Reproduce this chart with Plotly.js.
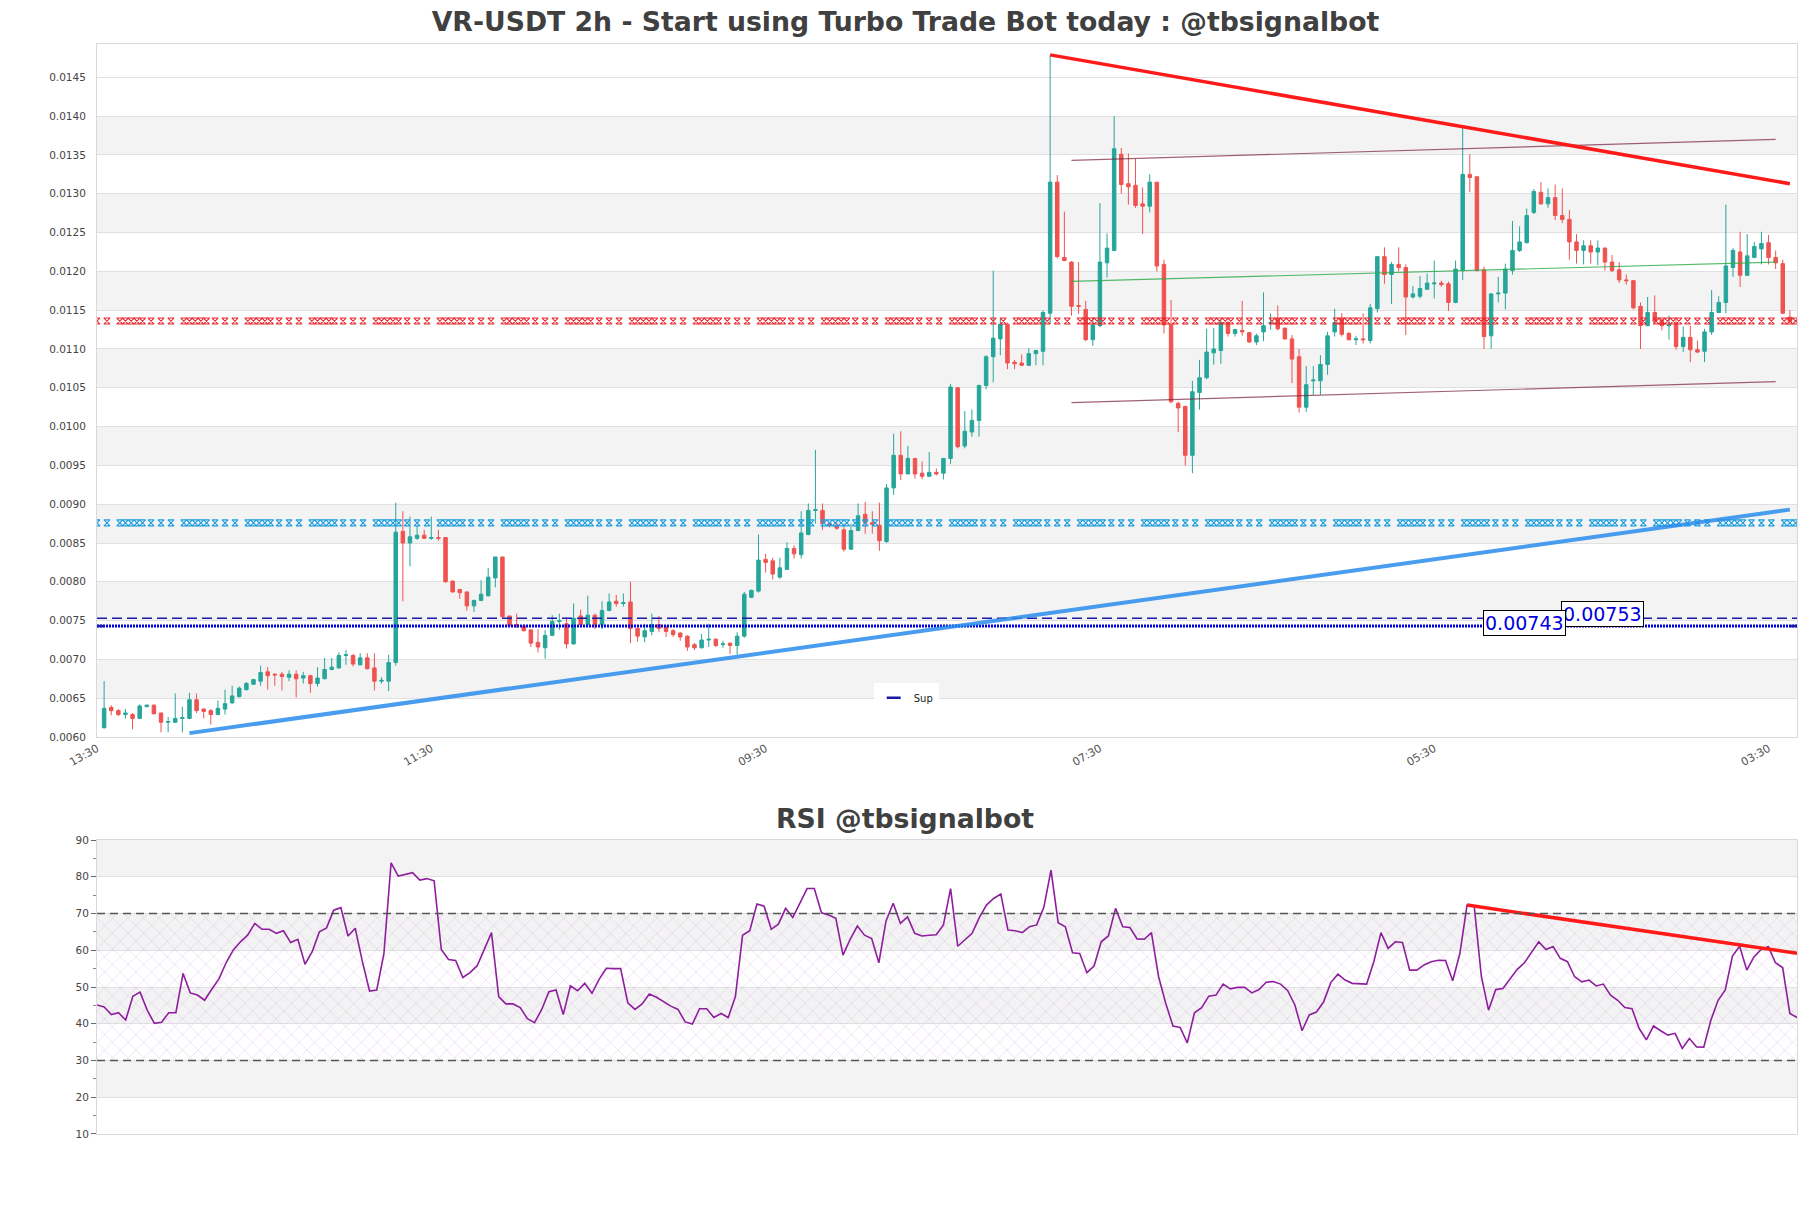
<!DOCTYPE html>
<html>
<head>
<meta charset="utf-8">
<script src="https://cdn.plot.ly/plotly-3.0.1.min.js"></script>
<style>
  html, body { margin: 0; padding: 0; background: #fff; }
  #chart { width: 1811px; height: 1208px; }
</style>
</head>
<body>
<div id="chart"></div>
<script>
// 2h candles
var candleOpen = [
  0.00612,0.00638,0.00634,0.00629,0.00629,0.00624,0.00639,0.00641,0.00631,0.00619,
  0.00619,0.00624,0.00624,0.00648,0.00636,0.00634,0.00629,0.00636,0.00644,0.00652,
  0.00661,0.00668,0.00672,0.00684,0.00681,0.00681,0.00677,0.00681,0.00676,0.00679,
  0.00669,0.00675,0.00687,0.00689,0.00705,0.00705,0.00693,0.00702,0.00689,0.00672,
  0.00672,0.00696,0.00865,0.00850,0.00856,0.00860,0.00856,0.00857,0.00857,0.00801,
  0.00790,0.00787,0.00769,0.00776,0.00782,0.00805,0.00832,0.00756,0.00745,0.00743,
  0.00738,0.00722,0.00715,0.00731,0.00749,0.00746,0.00720,0.00756,0.00745,0.00757,
  0.00745,0.00763,0.00775,0.00772,0.00774,0.00740,0.00729,0.00736,0.00745,0.00742,
  0.00737,0.00734,0.00730,0.00719,0.00715,0.00725,0.00726,0.00719,0.00721,0.00718,
  0.00730,0.00780,0.00788,0.00829,0.00827,0.00806,0.00816,0.00843,0.00835,0.00861,
  0.00892,0.00892,0.00875,0.00873,0.00867,0.00842,0.00866,0.00887,0.00876,0.00873,
  0.00852,0.00921,0.00963,0.00939,0.00959,0.00940,0.00936,0.00941,0.00940,0.00959,
  0.01050,0.00975,0.00993,0.01008,0.01053,0.01090,0.01113,0.01132,0.01083,0.01082,
  0.01079,0.01094,0.01097,0.01146,0.01315,0.01218,0.01212,0.01156,0.01151,0.01112,
  0.01130,0.01211,0.01227,0.01351,0.01313,0.01311,0.01287,0.01284,0.01315,0.01209,
  0.01132,0.01030,0.01026,0.00963,0.01044,0.01063,0.01095,0.01098,0.01134,0.01120,
  0.01124,0.01121,0.01109,0.01122,0.01133,0.01139,0.01127,0.01113,0.01090,0.01025,
  0.01059,0.01059,0.01080,0.01122,0.01139,0.01120,0.01112,0.01113,0.01111,0.01152,
  0.01219,0.01196,0.01209,0.01205,0.01167,0.01168,0.01177,0.01184,0.01185,0.01184,
  0.01160,0.01201,0.01325,0.01322,0.01202,0.01117,0.01171,0.01172,0.01201,0.01227,
  0.01237,0.01276,0.01302,0.01287,0.01295,0.01272,0.01267,0.01238,0.01227,0.01233,
  0.01225,0.01230,0.01212,0.01202,0.01189,0.01188,0.01155,0.01130,0.01147,0.01137,
  0.01130,0.01133,0.01103,0.01115,0.01099,0.01097,0.01122,0.01147,0.01160,0.01205,
  0.01225,0.01195,0.01218,0.01229,0.01237,0.01218,0.01210,0.01141
];
var candleHigh = [
  0.00672,0.00641,0.00636,0.00636,0.00631,0.00642,0.00642,0.00642,0.00631,0.00626,
  0.00656,0.00639,0.00657,0.00656,0.00637,0.00636,0.00647,0.00661,0.00666,0.00665,
  0.00671,0.00675,0.00692,0.00690,0.00682,0.00684,0.00686,0.00686,0.00684,0.00680,
  0.00690,0.00702,0.00702,0.00709,0.00712,0.00707,0.00708,0.00708,0.00708,0.00677,
  0.00706,0.00902,0.00891,0.00884,0.00872,0.00867,0.00884,0.00867,0.00857,0.00801,
  0.00791,0.00787,0.00777,0.00802,0.00818,0.00832,0.00832,0.00756,0.00759,0.00745,
  0.00739,0.00739,0.00738,0.00757,0.00759,0.00754,0.00772,0.00764,0.00782,0.00759,
  0.00775,0.00785,0.00783,0.00785,0.00800,0.00740,0.00746,0.00759,0.00756,0.00744,
  0.00739,0.00735,0.00731,0.00721,0.00733,0.00746,0.00727,0.00724,0.00721,0.00735,
  0.00787,0.00790,0.00861,0.00836,0.00831,0.00831,0.00851,0.00847,0.00891,0.00901,
  0.00970,0.00901,0.00877,0.00878,0.00875,0.00875,0.00901,0.00903,0.00891,0.00902,
  0.00926,0.00991,0.00994,0.00975,0.00959,0.00955,0.00967,0.00946,0.00959,0.01055,
  0.01051,0.01020,0.01022,0.01054,0.01092,0.01201,0.01140,0.01134,0.01086,0.01093,
  0.01101,0.01099,0.01150,0.01479,0.01324,0.01277,0.01213,0.01212,0.01162,0.01141,
  0.01288,0.01249,0.01400,0.01359,0.01352,0.01345,0.01308,0.01325,0.01315,0.01215,
  0.01163,0.01032,0.01027,0.01059,0.01086,0.01126,0.01127,0.01138,0.01136,0.01126,
  0.01162,0.01122,0.01120,0.01173,0.01146,0.01156,0.01127,0.01118,0.01100,0.01078,
  0.01078,0.01092,0.01122,0.01152,0.01146,0.01122,0.01117,0.01146,0.01158,0.01220,
  0.01231,0.01212,0.01231,0.01209,0.01181,0.01194,0.01197,0.01214,0.01188,0.01187,
  0.01214,0.01386,0.01351,0.01322,0.01206,0.01172,0.01193,0.01210,0.01265,0.01258,
  0.01281,0.01306,0.01315,0.01307,0.01312,0.01307,0.01279,0.01248,0.01240,0.01240,
  0.01240,0.01231,0.01221,0.01212,0.01196,0.01189,0.01160,0.01167,0.01169,0.01139,
  0.01143,0.01137,0.01129,0.01130,0.01111,0.01126,0.01176,0.01168,0.01286,0.01230,
  0.01251,0.01248,0.01238,0.01251,0.01247,0.01227,0.01215,0.01150
];
var candleLow = [
  0.00611,0.00628,0.00627,0.00624,0.00610,0.00624,0.00639,0.00629,0.00606,0.00606,
  0.00618,0.00606,0.00623,0.00631,0.00624,0.00616,0.00628,0.00629,0.00643,0.00651,
  0.00660,0.00667,0.00666,0.00661,0.00666,0.00660,0.00672,0.00651,0.00669,0.00657,
  0.00665,0.00675,0.00686,0.00688,0.00693,0.00691,0.00692,0.00687,0.00660,0.00669,
  0.00659,0.00692,0.00775,0.00820,0.00854,0.00855,0.00854,0.00853,0.00799,0.00786,
  0.00778,0.00763,0.00761,0.00775,0.00781,0.00793,0.00754,0.00743,0.00741,0.00736,
  0.00716,0.00709,0.00701,0.00730,0.00738,0.00714,0.00719,0.00743,0.00744,0.00739,
  0.00739,0.00762,0.00768,0.00768,0.00721,0.00723,0.00722,0.00731,0.00735,0.00729,
  0.00729,0.00724,0.00711,0.00712,0.00714,0.00716,0.00716,0.00715,0.00707,0.00706,
  0.00728,0.00779,0.00786,0.00812,0.00803,0.00804,0.00816,0.00830,0.00830,0.00860,
  0.00875,0.00867,0.00870,0.00867,0.00839,0.00842,0.00866,0.00862,0.00862,0.00840,
  0.00850,0.00912,0.00931,0.00939,0.00933,0.00932,0.00935,0.00937,0.00932,0.00952,
  0.00972,0.00972,0.00987,0.00987,0.01048,0.01057,0.01092,0.01074,0.01074,0.01078,
  0.01078,0.01079,0.01079,0.01132,0.01217,0.01213,0.01143,0.01145,0.01110,0.01104,
  0.01128,0.01192,0.01226,0.01300,0.01286,0.01282,0.01248,0.01276,0.01200,0.01120,
  0.01030,0.00993,0.00950,0.00940,0.01022,0.01061,0.01080,0.01081,0.01116,0.01116,
  0.01117,0.01108,0.01105,0.01110,0.01125,0.01124,0.01112,0.01056,0.01018,0.01019,
  0.01041,0.01041,0.01067,0.01116,0.01116,0.01111,0.01105,0.01107,0.01107,0.01147,
  0.01184,0.01158,0.01200,0.01118,0.01165,0.01165,0.01176,0.01165,0.01180,0.01149,
  0.01159,0.01189,0.01302,0.01200,0.01100,0.01100,0.01160,0.01151,0.01196,0.01225,
  0.01236,0.01274,0.01286,0.01282,0.01266,0.01262,0.01215,0.01210,0.01209,0.01210,
  0.01208,0.01201,0.01199,0.01185,0.01183,0.01151,0.01100,0.01130,0.01134,0.01124,
  0.01112,0.01099,0.01096,0.01083,0.01095,0.01083,0.01118,0.01146,0.01146,0.01193,
  0.01180,0.01194,0.01217,0.01209,0.01209,0.01203,0.01145,0.01134
];
var candleClose = [
  0.00637,0.00634,0.00629,0.00631,0.00624,0.00640,0.00641,0.00630,0.00619,0.00620,
  0.00624,0.00625,0.00648,0.00634,0.00633,0.00629,0.00637,0.00643,0.00653,0.00663,
  0.00669,0.00674,0.00683,0.00679,0.00680,0.00678,0.00681,0.00675,0.00679,0.00669,
  0.00676,0.00687,0.00690,0.00705,0.00706,0.00694,0.00702,0.00688,0.00672,0.00673,
  0.00696,0.00864,0.00850,0.00858,0.00860,0.00856,0.00857,0.00856,0.00800,0.00787,
  0.00786,0.00769,0.00776,0.00784,0.00806,0.00832,0.00755,0.00744,0.00742,0.00737,
  0.00721,0.00716,0.00731,0.00749,0.00750,0.00720,0.00753,0.00745,0.00757,0.00745,
  0.00763,0.00774,0.00772,0.00773,0.00740,0.00730,0.00737,0.00745,0.00740,0.00736,
  0.00732,0.00729,0.00716,0.00715,0.00725,0.00726,0.00718,0.00720,0.00718,0.00730,
  0.00784,0.00789,0.00828,0.00825,0.00810,0.00818,0.00843,0.00836,0.00863,0.00892,
  0.00893,0.00875,0.00873,0.00869,0.00842,0.00866,0.00885,0.00876,0.00874,0.00853,
  0.00921,0.00963,0.00939,0.00959,0.00939,0.00936,0.00941,0.00939,0.00959,0.01051,
  0.00974,0.00994,0.01008,0.01053,0.01090,0.01114,0.01132,0.01082,0.01081,0.01079,
  0.01094,0.01098,0.01147,0.01315,0.01219,0.01214,0.01155,0.01155,0.01112,0.01131,
  0.01212,0.01230,0.01358,0.01312,0.01309,0.01285,0.01284,0.01315,0.01207,0.01131,
  0.01032,0.01024,0.00963,0.01045,0.01063,0.01096,0.01100,0.01134,0.01120,0.01125,
  0.01122,0.01109,0.01117,0.01130,0.01134,0.01126,0.01113,0.01087,0.01025,0.01054,
  0.01060,0.01080,0.01117,0.01134,0.01119,0.01112,0.01113,0.01112,0.01153,0.01219,
  0.01196,0.01209,0.01205,0.01167,0.01171,0.01178,0.01185,0.01185,0.01183,0.01160,
  0.01203,0.01325,0.01321,0.01201,0.01116,0.01171,0.01172,0.01203,0.01227,0.01238,
  0.01272,0.01303,0.01287,0.01295,0.01272,0.01267,0.01238,0.01227,0.01233,0.01225,
  0.01230,0.01212,0.01201,0.01189,0.01188,0.01153,0.01130,0.01147,0.01135,0.01130,
  0.01131,0.01103,0.01115,0.01099,0.01096,0.01122,0.01147,0.01160,0.01207,0.01227,
  0.01195,0.01220,0.01232,0.01236,0.01218,0.01211,0.01146,0.01135
];

var rsiValues = [
  45.1,44.6,42.5,43.0,41.0,47.5,48.6,43.7,40.1,40.4,
  43.0,43.0,53.7,48.4,47.8,46.4,49.4,52.2,56.6,60.1,
  62.3,64.1,67.3,65.7,65.7,64.6,65.3,62.1,63.0,56.2,
  59.6,65.0,66.1,70.9,71.6,63.9,66.0,56.9,48.9,49.2,
  59.1,83.8,80.2,80.7,81.1,79.1,79.5,78.9,60.2,57.5,
  57.2,52.6,53.9,55.8,60.2,64.8,47.4,45.4,45.4,44.4,
  41.4,40.3,43.9,48.7,49.2,42.5,50.3,49.0,51.0,48.3,
  52.1,55.1,55.0,55.0,45.7,43.9,45.4,48.1,47.2,46.0,
  44.8,43.9,40.5,39.9,44.1,44.1,41.7,42.8,41.7,47.4,
  64.1,65.3,72.6,72.0,65.7,67.1,71.4,68.9,72.9,76.8,
  76.8,70.2,69.6,68.7,58.7,63.0,66.6,64.1,63.2,56.6,
  68.0,72.8,67.3,69.1,64.6,63.9,64.1,64.2,66.9,76.8,
  61.1,62.8,64.6,68.9,72.3,74.1,75.3,65.5,65.3,64.8,
  66.4,66.9,71.7,81.8,67.5,66.4,59.3,59.1,53.9,55.7,
  62.3,63.9,71.4,66.4,66.2,63.1,63.0,64.8,52.8,45.5,
  39.4,39.0,34.8,43.0,44.4,47.5,47.8,50.8,49.5,49.9,
  49.9,48.4,49.3,51.3,51.5,50.8,49.0,45.1,38.1,42.4,
  43.2,45.9,51.2,53.5,51.9,51.0,50.8,50.8,56.9,64.8,
  60.5,62.3,62.1,54.6,54.6,56.0,56.9,57.3,57.2,51.7,
  59.1,72.3,72.0,52.8,43.7,49.3,49.6,52.1,54.8,56.6,
  59.3,62.3,60.2,61.0,57.8,56.9,52.8,51.4,51.9,50.3,
  50.8,47.8,46.4,44.4,44.1,38.7,35.6,39.4,38.1,36.9,
  37.4,33.3,36.0,33.7,33.6,41.0,46.4,49.2,58.4,61.1,
  54.6,58.2,60.2,61.0,56.6,55.3,42.8,41.7
];

var xTickVals = [-1, 46, 93, 140, 187, 234];
var xTickText = ['13:30', '11:30', '09:30', '07:30', '05:30', '03:30'];
var priceRange = [0.0060, 0.01493];
var priceTicks = [0.0060, 0.0065, 0.0070, 0.0075, 0.0080, 0.0085, 0.0090, 0.0095, 0.0100,
                  0.0105, 0.0110, 0.0115, 0.0120, 0.0125, 0.0130, 0.0135, 0.0140, 0.0145];
var rsiTicks = [10, 20, 30, 40, 50, 60, 70, 80, 90];

var resistanceLevel = 0.01136;
var supportZoneLevel = 0.00876;
var supHigh = 0.00753;
var supLow = 0.00743;

var downTrendX = [133, 237], downTrendY = [0.01479, 0.01313];
var upTrendX = [12, 237], upTrendY = [0.00605, 0.00893];
var channelX = [136, 235];
var channelTop = [0.01343, 0.01370];
var channelMid = [0.01187, 0.01212];
var channelBot = [0.01031, 0.01058];
var rsiTrendX = [191, 237], rsiTrendY = [72.3, 59.2];

var candleX = candleOpen.map(function (v, i) { return i; });
var rsiX = rsiValues.map(function (v, i) { return i; });
var fullX = [-1, 238];

// line style: repeating group of hourglass marks along a level
var levelPeriod = 9;
var levelMarkOffsets = [0, 1.4, 3.2, 4.0, 4.8, 5.6, 6.4, 7.6];
var levelX = [];
for (var p = fullX[0]; p < fullX[1]; p += levelPeriod) {
  levelMarkOffsets.forEach(function (o) { if (p + o <= fullX[1]) levelX.push(p + o); });
}

function flat(v, n) { var a = []; for (var k = 0; k < n; k++) a.push(v); return a; }

var candles = {
  type: 'candlestick', x: candleX,
  open: candleOpen, high: candleHigh, low: candleLow, close: candleClose,
  increasing: {line: {color: '#26a69a', width: 1}, fillcolor: '#26a69a'},
  decreasing: {line: {color: '#ef5350', width: 1}, fillcolor: '#ef5350'},
  whiskerwidth: 0, showlegend: false, hoverinfo: 'skip'
};

function levelTrace(y, color) {
  return {
    type: 'scatter', mode: 'markers', x: levelX, y: flat(y, levelX.length),
    marker: {symbol: 'hourglass-open', size: 6, color: color, line: {color: color, width: 1.1}},
    showlegend: false, hoverinfo: 'skip'
  };
}

function seg(x, y, color, width, dash, xa, ya) {
  return {
    type: 'scatter', mode: 'lines', x: x, y: y, xaxis: xa || 'x', yaxis: ya || 'y',
    line: {color: color, width: width, dash: dash || 'solid'},
    showlegend: false, hoverinfo: 'skip'
  };
}

var data = [
  candles,
  levelTrace(resistanceLevel, '#e8262d'),
  levelTrace(supportZoneLevel, '#1e9fe0'),
  seg(fullX, [supHigh, supHigh], '#1a1aa8', 1.5, '10px,5px'),
  seg(fullX, [supLow, supLow], '#0000dd', 3, '2px,1px'),
  seg(channelX, channelTop, 'rgba(120,30,60,0.7)', 1.2),
  seg(channelX, channelBot, 'rgba(120,30,60,0.7)', 1.2),
  seg(channelX, channelMid, 'rgba(40,170,70,0.8)', 1.2),
  seg(downTrendX, downTrendY, '#ff1a1a', 3.5),
  seg(upTrendX, upTrendY, 'rgba(40,140,235,0.85)', 4),
  {
    type: 'scatter', mode: 'markers', name: 'Sup',
    x: [fullX[0], fullX[1]], y: [supLow, supLow],
    marker: {symbol: 'line-ew-open', size: 10, color: '#1a1aa8', line: {color: '#1a1aa8', width: 2.5}},
    showlegend: true, hoverinfo: 'skip'
  },
  // RSI hatch zone 30..70
  {
    type: 'scatter', mode: 'lines', x: [rsiX[0], rsiX[rsiX.length - 1]], y: [30, 30],
    xaxis: 'x2', yaxis: 'y2', line: {width: 0}, showlegend: false, hoverinfo: 'skip'
  },
  {
    type: 'scatter', mode: 'lines', x: [rsiX[0], rsiX[rsiX.length - 1]], y: [70, 70],
    xaxis: 'x2', yaxis: 'y2', line: {width: 0}, fill: 'tonexty',
    fillcolor: 'rgba(0,0,0,0)',
    fillpattern: {shape: 'x', fgcolor: 'rgb(205,150,220)', fgopacity: 0.6, size: 11, solidity: 0.08},
    showlegend: false, hoverinfo: 'skip'
  },
  seg(rsiX, rsiValues, '#8e1e9e', 1.6, 'solid', 'x2', 'y2'),
  seg(rsiTrendX, rsiTrendY, '#ff1a1a', 3.5, 'solid', 'x2', 'y2')
];

var shapes = [];
for (var b = 1; b < priceTicks.length - 1; b += 2) {
  shapes.push({type: 'rect', xref: 'paper', yref: 'y', x0: 0, x1: 1,
    y0: priceTicks[b], y1: priceTicks[b + 1],
    fillcolor: '#f3f3f3', line: {width: 0}, layer: 'below'});
}
for (var r = 1; r < rsiTicks.length - 1; r += 2) {
  shapes.push({type: 'rect', xref: 'paper', yref: 'y2', x0: 0, x1: 1,
    y0: rsiTicks[r], y1: rsiTicks[r + 1],
    fillcolor: '#f3f3f3', line: {width: 0}, layer: 'below'});
}
[70, 30].forEach(function (lv) {
  shapes.push({type: 'line', xref: 'paper', yref: 'y2', x0: 0, x1: 1, y0: lv, y1: lv,
    line: {color: '#555', width: 1.5, dash: '8px,5px'}});
});

var labelFont = {family: 'DejaVu Sans', size: 19, color: '#0000dd'};
var titleFont = {family: 'DejaVu Sans', size: 26.7, color: '#404040'};
var annotations = [
  {xref: 'paper', yref: 'paper', x: 0.475, y: 0.289, xanchor: 'center', yanchor: 'middle',
   text: '<b>RSI @tbsignalbot</b>', showarrow: false, font: titleFont},
  {xref: 'x', yref: 'y', x: 210.6, y: supHigh, yshift: 4, text: String(supHigh), showarrow: false,
   font: labelFont, bgcolor: '#fff', bordercolor: '#000', borderwidth: 1, borderpad: 1},
  {xref: 'x', yref: 'y', x: 199.7, y: supLow, yshift: 3, text: String(supLow), showarrow: false,
   font: labelFont, bgcolor: '#fff', bordercolor: '#000', borderwidth: 1, borderpad: 1}
];

var axisLine = '#d9d9d9';
var layout = {
  width: 1811, height: 1208,
  paper_bgcolor: '#fff', plot_bgcolor: '#fff',
  font: {family: 'DejaVu Sans', size: 10, color: '#444'},
  margin: {l: 97, r: 14, t: 44, b: 74, pad: 0},
  title: {
    text: '<b>VR-USDT 2h - Start using Turbo Trade Bot today : @tbsignalbot</b>',
    font: titleFont,
    x: 0.5, xanchor: 'center', xref: 'container', y: 0.982, yanchor: 'middle', yref: 'container'
  },
  showlegend: true,
  legend: {x: 0.476, xanchor: 'center', y: 0.387, yanchor: 'bottom', bgcolor: '#fff',
           font: {size: 10, color: '#222'}},
  xaxis: {
    domain: [0, 1], anchor: 'y', range: fullX, rangeslider: {visible: false},
    tickmode: 'array', tickvals: xTickVals, ticktext: xTickText, tickangle: -30,
    tickfont: {size: 11, color: '#555'},
    showgrid: false, zeroline: false, showline: true, mirror: true, linecolor: axisLine
  },
  yaxis: {
    domain: [0.3642, 1], anchor: 'x', range: priceRange,
    tickmode: 'array', tickvals: priceTicks, tickformat: '.4f',
    ticklabelstandoff: 8, tickfont: {size: 10.5, color: '#444'},
    showgrid: true, gridcolor: '#e0e0e0', zeroline: false,
    showline: true, mirror: true, linecolor: axisLine
  },
  xaxis2: {
    domain: [0, 1], anchor: 'y2', range: [rsiX[0], rsiX[rsiX.length - 1]],
    showticklabels: false, showgrid: false, zeroline: false,
    showline: true, mirror: true, linecolor: axisLine
  },
  yaxis2: {
    domain: [0, 0.2697], anchor: 'x2', range: [10, 90],
    tickmode: 'array', tickvals: rsiTicks, ticks: 'outside', ticklen: 5, tickcolor: '#666',
    minor: {ticks: 'outside', ticklen: 3, tickcolor: '#888', dtick: 5, showgrid: false},
    tickfont: {size: 10.5, color: '#444'},
    showgrid: true, gridcolor: '#e0e0e0', zeroline: false,
    showline: true, mirror: true, linecolor: axisLine
  },
  shapes: shapes,
  annotations: annotations
};

Plotly.newPlot('chart', data, layout, {displayModeBar: false, staticPlot: true});
</script>
</body>
</html>
